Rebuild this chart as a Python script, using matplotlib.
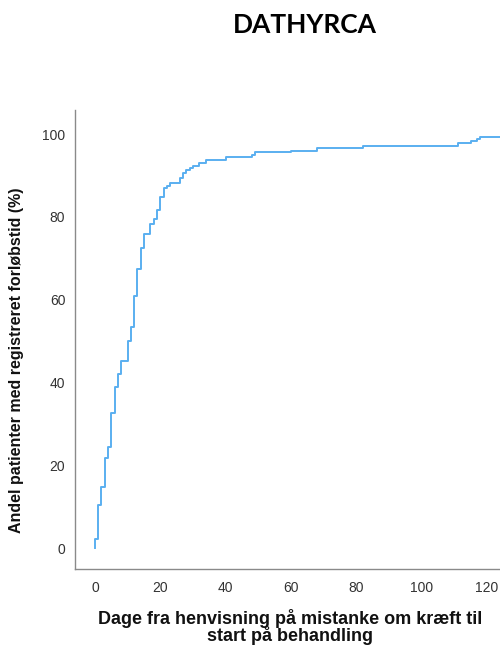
"""DATHYRCA: kumuleret andel patienter med registreret forløbstid."""
import matplotlib
matplotlib.use("Agg")
import matplotlib.pyplot as plt

# step data (day of step, value after step, %)
days = [0, 0, 1, 2, 3, 4, 5, 6, 7, 8, 10, 11, 12, 13, 14, 15, 17, 18, 19, 20,
        21, 22, 23, 26, 27, 28, 29, 30, 32, 34, 40, 48, 49, 60, 68, 82,
        111, 115, 117, 118, 125]
pct = [0, 2.3, 10.5, 14.8, 21.7, 24.5, 32.6, 38.9, 42.0, 45.2, 50.0, 53.3,
       60.9, 67.3, 72.6, 75.8, 78.4, 79.5, 81.6, 84.9, 86.9, 87.4, 88.1,
       89.4, 90.5, 91.3, 91.9, 92.4, 92.9, 93.8, 94.4, 95.0, 95.6, 96.0,
       96.6, 97.1, 97.8, 98.3, 98.8, 99.4, 99.4]
xticks = [0, 20, 40, 60, 80, 100, 120]
yticks = [0, 20, 40, 60, 80, 100]

title = "DATHYRCA"
xlabel = "Dage fra henvisning på mistanke om kræft til\nstart på behandling"
ylabel = "Andel patienter med registreret forløbstid (%)"

fig = plt.figure(figsize=(5.0, 6.46), dpi=100)
ax = fig.add_axes([0.15, 0.1192, 0.85, 0.7105])

ax.step(days, pct, where="post", color="#5aaff0", lw=1.4)

ax.set_xlim(-6.1, 124)
ax.set_ylim(-5, 105.8)
ax.set_xticks(xticks)
ax.set_yticks(yticks)

for s in ("top", "right"):
    ax.spines[s].set_visible(False)
for s in ("left", "bottom"):
    ax.spines[s].set_color("#8a8a8a")
    ax.spines[s].set_linewidth(1.0)

ax.tick_params(length=0, labelsize=10, labelcolor="#333333")
ax.tick_params(axis="x", pad=9)
ax.tick_params(axis="y", pad=7)
for lab in ax.get_xticklabels() + ax.get_yticklabels():
    lab.set_family(["Liberation Sans", "DejaVu Sans"])

ax.set_xlabel(xlabel, fontsize=13, fontweight="bold", linespacing=0.88,
              family=["Liberation Sans", "DejaVu Sans"], color="#111111")
ax.xaxis.set_label_coords((290 - 75) / 425, (569 - 627) / 459)
ax.xaxis.label.set_va("center")

ax.set_ylabel(ylabel, fontsize=11.5, fontweight="bold",
              family=["Liberation Sans Narrow", "Liberation Sans", "DejaVu Sans"],
              color="#111111")
ax.yaxis.set_label_coords((17 - 75) / 425, (569 - 360) / 459)
ax.yaxis.label.set_va("center")

fig.text(305 / 500, 1 - 25 / 646, title, ha="center", va="center",
         fontsize=19, fontweight="bold", family=["Lato", "DejaVu Sans"])

fig.savefig("out.png", dpi=100)
